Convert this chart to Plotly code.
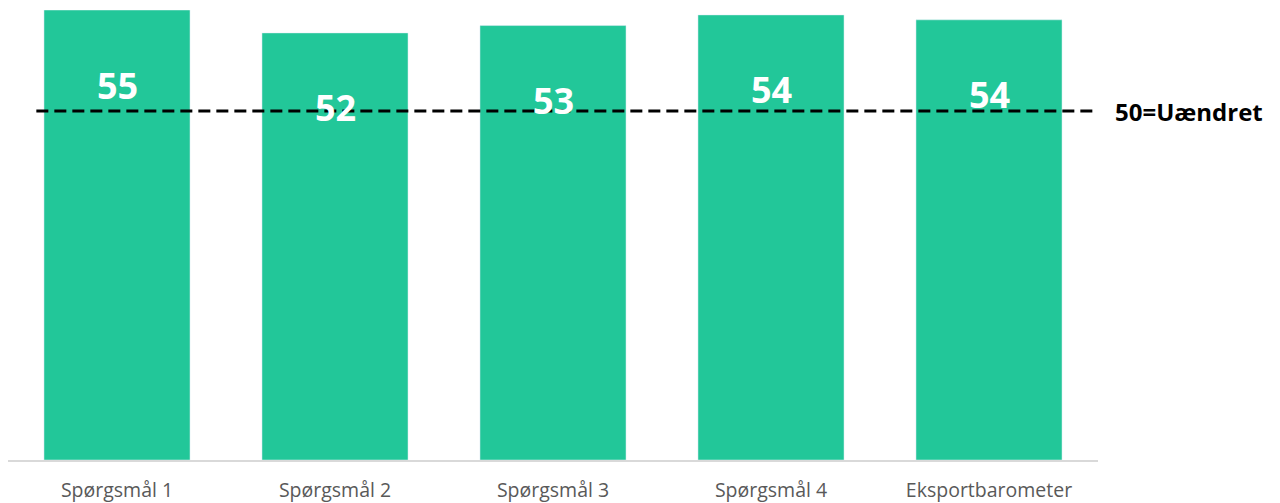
import plotly.graph_objects as go

categories = ["Spørgsmål 1", "Spørgsmål 2", "Spørgsmål 3", "Spørgsmål 4", "Eksportbarometer"]
values = [55.0, 52.2, 53.1, 54.4, 53.8]
labels = ["55", "52", "53", "54", "54"]
reference_value = 50
reference_label = "50=Uændret"

green = "#22C799"

fig = go.Figure()
fig.add_trace(go.Bar(
    x=categories, y=values, marker_color=green, width=0.67,
    hoverinfo="x+y", showlegend=False,
))

for c, v, t in zip(categories, values, labels):
    fig.add_annotation(
        x=c, y=v, text=f"<b>{t}</b>", showarrow=False, yshift=-75,
        font=dict(family="Open Sans", size=36, color="white"), xref="x", yref="y",
    )

# reference line drawn on its own (invisible) scale
fig.add_shape(
    type="line", xref="x", yref="y2", x0=-0.37, x1=4.48,
    y0=reference_value, y1=reference_value,
    line=dict(color="black", width=3, dash="12px,6px"), layer="above",
)
fig.add_annotation(
    xref="paper", yref="y2", x=1.0, y=reference_value, xanchor="left", xshift=15,
    text=f"<b>{reference_label}</b>", showarrow=False,
    font=dict(family="Open Sans", size=24, color="black"),
)

fig.update_layout(
    width=1272, height=495,
    margin=dict(l=0, r=182, t=2, b=43, autoexpand=False),
    plot_bgcolor="white", paper_bgcolor="white",
    bargap=0.33,
    xaxis=dict(
        showline=True, linecolor="#D9D9D9", linewidth=1.5,
        ticks="outside", ticklen=12, tickcolor="rgba(0,0,0,0)",
        tickfont=dict(family="Open Sans", size=19.5, color="#595959"),
        showgrid=False, automargin=False,
    ),
    yaxis=dict(range=[0, 55], visible=False, showgrid=False, fixedrange=True),
    yaxis2=dict(range=[0, 64.47], overlaying="y", visible=False, showgrid=False),
)

fig.write_html("out.html")
